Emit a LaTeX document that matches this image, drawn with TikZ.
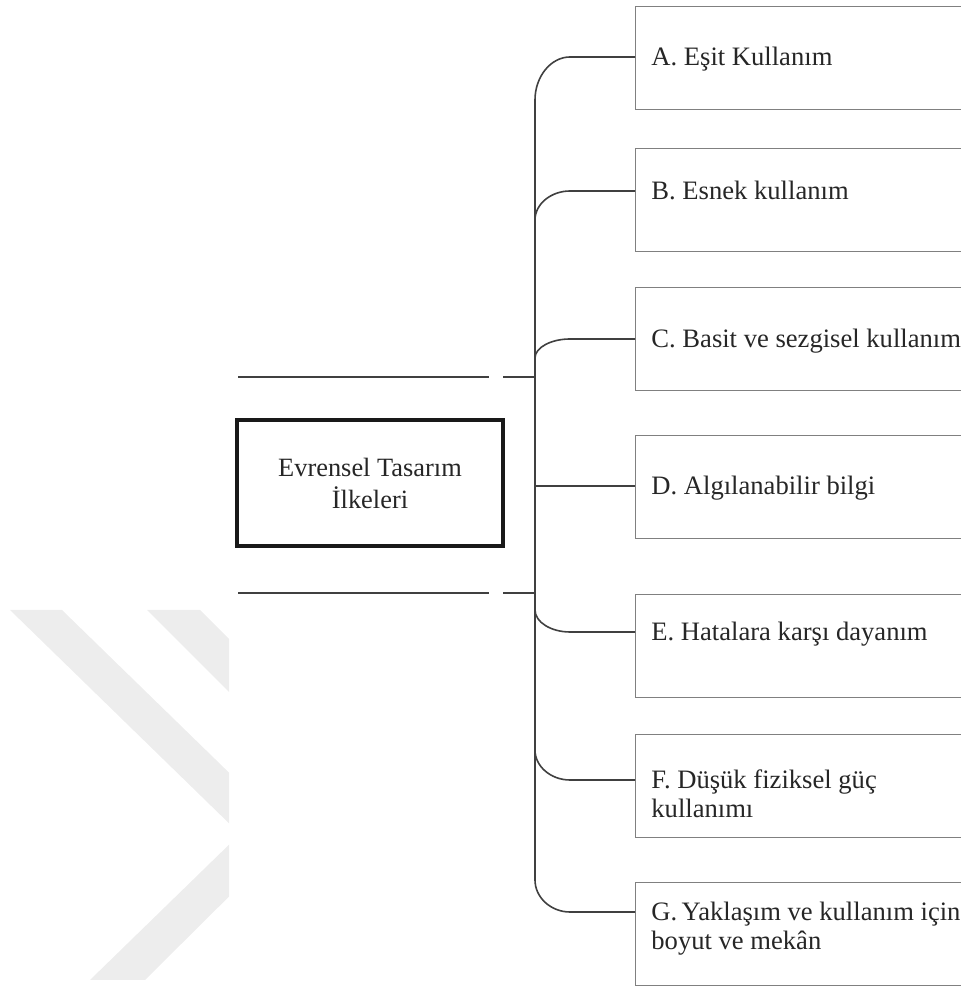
\documentclass[tikz,border=0pt]{standalone}
\usepackage{fontspec}
\setmainfont{Liberation Serif}

\begin{document}
\begin{tikzpicture}[x=0.5pt,y=0.5pt,
  ilke/.style={draw=black!50, line width=0.7pt, minimum width=200pt, minimum height=51.5pt, anchor=north west, inner sep=0pt},
  metin/.style={anchor=base west, align=left, inner sep=0pt, text=black!85, font=\fontsize{13.3}{14.5}\selectfont},
  baslik/.style={draw=black!90, line width=1.6pt, minimum width=133pt, minimum height=63pt, align=center, inner sep=0pt, text=black!85, font=\fontsize{13.2}{16}\selectfont},
  kol/.style={draw=black!75, line width=0.8pt}]
\clip (0,0) rectangle (961,990);

% watermark
\begin{scope}
  \clip (0,0) rectangle (229,990);
  \fill[black!7] (10,380) -- (62,380) -- (292,156) -- (145,10) -- (90,10) -- (240,156) -- cycle;
  \fill[black!7] (147,380) -- (200,380) -- (350,230) -- (297,230) -- cycle;
\end{scope}

% central box and frame lines
\node[baslik] (merkez) at (370,507) {Evrensel Tasarım\\İlkeleri};
\draw[kol] (238,613) -- (489,613) (503,613) -- (535,613);
\draw[kol] (238,397) -- (489,397) (503,397) -- (535,397);

% trunk
\coordinate (govdeUst) at (535,890);
\coordinate (govdeAlt) at (535,110);
\draw[kol] (govdeUst) -- (govdeAlt);

% principle boxes (\ek = extra text lines)
\foreach \ad/\ust/\kolY/\dal/\ek/\yazi in {
  A/984/933/890/0/{A. Eşit Kullanım},
  B/842/799/770/0/{B. Esnek kullanım},
  C/703/651/632/0/{C. Basit ve sezgisel kullanım},
  D/555/504/504/0/{D. Algılanabilir bilgi},
  E/396/358/380/0/{E. Hatalara karşı dayanım},
  F/256/210/240/1/{F. Düşük fiziksel güç\\kullanımı},
  G/108/78/110/1/{G.\,Yaklaşım ve kullanım için\\boyut ve mekân}}
{
  \node[ilke] (kutu\ad) at (635,\ust) {};
  \node[metin] (yazi\ad) at (651,{\kolY-9-29*\ek}) {\yazi};
  \draw[kol] (535,\dal) .. controls (535,{\dal+0.55*(\kolY-\dal)}) and (551,\kolY) .. (570,\kolY) -- (kutu\ad.west |- 0,\kolY);
}
\end{tikzpicture}
\end{document}
